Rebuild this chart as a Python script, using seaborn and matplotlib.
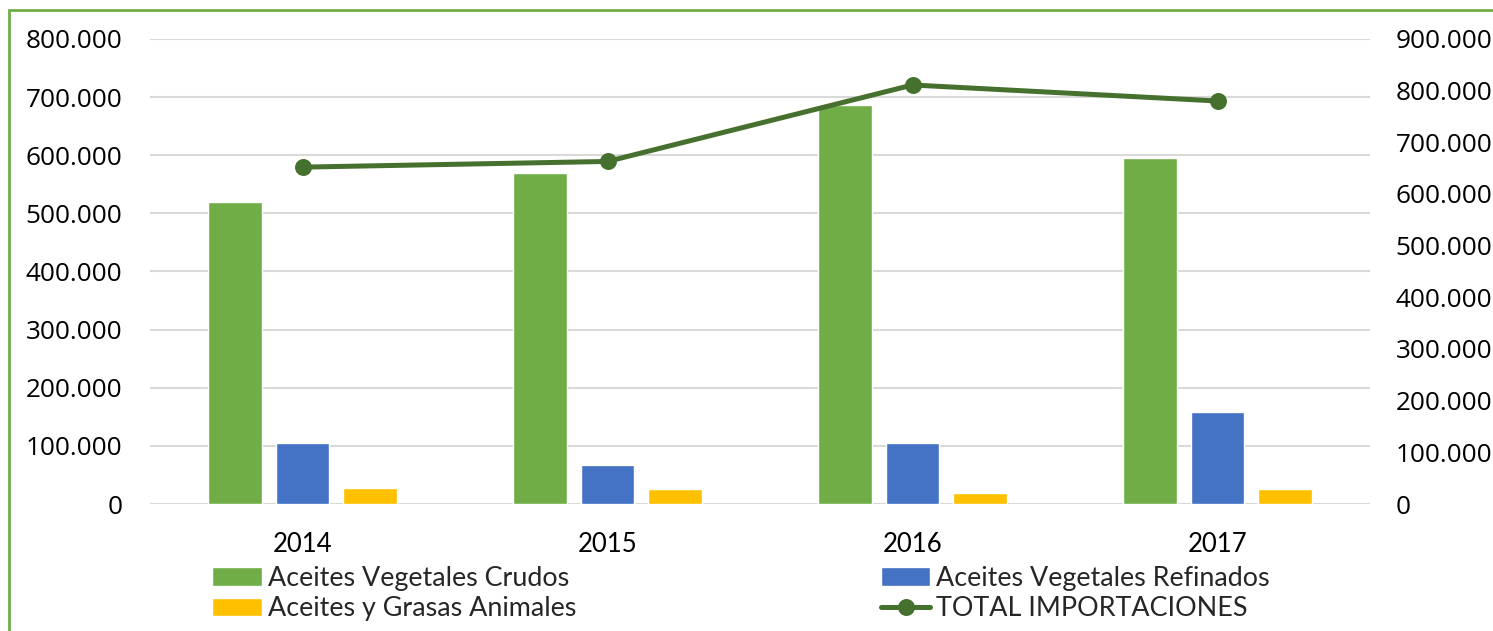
import matplotlib
matplotlib.use("Agg")
import matplotlib.pyplot as plt
import seaborn as sns
import pandas as pd
from matplotlib.ticker import FuncFormatter, MultipleLocator
from matplotlib.patches import Rectangle

# ---- data ----
years = ["2014", "2015", "2016", "2017"]
crudos = [519000, 569000, 687000, 596000]
refinados = [105000, 67000, 105000, 158000]
animales = [27500, 26000, 18500, 26000]
total = [652000, 663000, 811000, 780000]
series_names = ["Aceites Vegetales Crudos", "Aceites Vegetales Refinados", "Aceites y Grasas Animales"]
total_name = "TOTAL IMPORTACIONES"
colors = ["#70AD47", "#4472C4", "#FFC000"]
line_color = "#46702D"

sns.set_theme(style="white")
plt.rcParams["font.family"] = ["Lato", "DejaVu Sans"]

df = pd.DataFrame({
    "year": years * 3,
    "value": crudos + refinados + animales,
    "series": [series_names[0]] * 4 + [series_names[1]] * 4 + [series_names[2]] * 4,
})

fig = plt.figure(figsize=(14.93, 6.31), dpi=100)
ax = fig.add_axes([150 / 1493, 1 - 504 / 631, 1220 / 1493, 465 / 631])

sns.barplot(data=df, x="year", y="value", hue="series", hue_order=series_names,
            palette=colors, width=0.664, gap=0.21, saturation=1, ax=ax, errorbar=None)
if ax.get_legend() is not None:
    ax.get_legend().remove()

ax2 = ax.twinx()
sns.pointplot(x=years, y=total, color=line_color, markers="o", linestyles="-",
              linewidth=3.6, markersize=9.5, ax=ax2, label=total_name, errorbar=None)
if ax2.get_legend() is not None:
    ax2.get_legend().remove()

fmt = FuncFormatter(lambda v, p: f"{int(round(v)):,}".replace(",", "."))
ax.set_ylim(0, 800000)
ax.yaxis.set_major_locator(MultipleLocator(100000))
ax.yaxis.set_major_formatter(fmt)
ax2.set_ylim(0, 900000)
ax2.yaxis.set_major_locator(MultipleLocator(100000))
ax2.yaxis.set_major_formatter(fmt)
ax.set_xlim(-0.5, 3.5)

ax.set_axisbelow(True)
ax.grid(axis="y", color="#D9D9D9", linewidth=1.5)
ax.grid(axis="x", visible=False)
ax2.grid(False)
for a in (ax, ax2):
    for s in a.spines.values():
        s.set_visible(False)
    a.set_xlabel("")
    a.set_ylabel("")

ax.tick_params(axis="y", length=0, pad=20, labelsize=18.8)
ax2.tick_params(axis="y", length=0, pad=18.5, labelsize=18.8)
ax.tick_params(axis="x", length=0, pad=20, labelsize=18.5)
for lab in ax.get_yticklabels() + ax2.get_yticklabels():
    lab.set_fontfamily(["Open Sans", "DejaVu Sans"])
    lab.set_color("#000000")
for lab in ax.get_xticklabels():
    lab.set_color("#000000")

h1, l1 = ax.get_legend_handles_labels()
h2, l2 = ax2.get_legend_handles_labels()
hd = dict(zip(l1 + l2, h1 + h2))
order = [series_names[0], series_names[2], series_names[1], total_name]
fig.legend([hd[k] for k in order], order, ncol=2, loc="upper left",
           bbox_to_anchor=(212 / 1493, 1 - 566 / 631), frameon=False,
           fontsize=19.4, handlelength=1.85, handleheight=0.67, handletextpad=0.22,
           labelspacing=0.2, columnspacing=11.3, borderaxespad=0, borderpad=0)

fig.add_artist(Rectangle((8.5 / 1493, -0.1), 1.2, 1 - 10 / 631 + 0.1,
                         transform=fig.transFigure, fill=False,
                         edgecolor="#70AD47", linewidth=2, clip_on=False))

fig.savefig("out.png", dpi=100)
